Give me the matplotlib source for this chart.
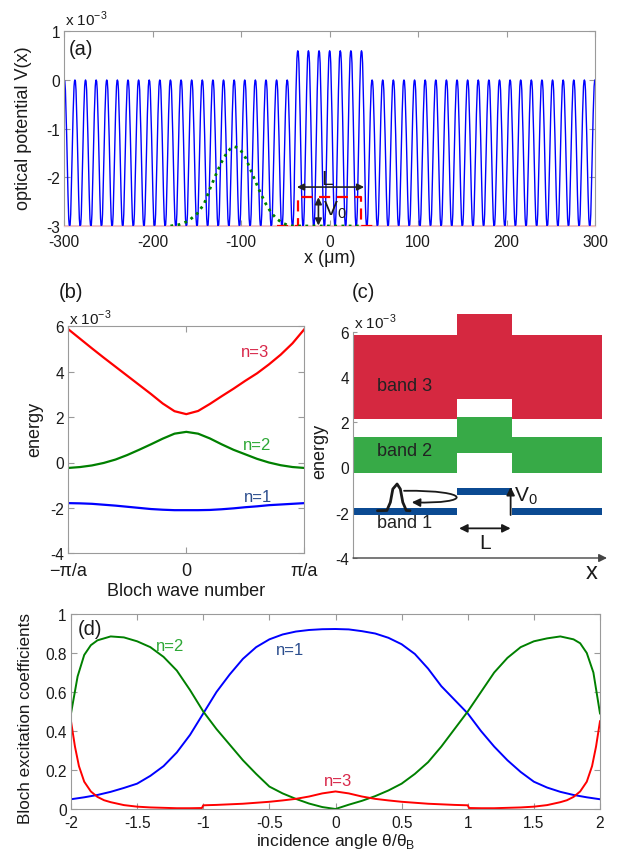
import numpy as np
import matplotlib
matplotlib.use("Agg")
import matplotlib.pyplot as plt
from matplotlib.path import Path
from matplotlib.patches import FancyArrowPatch

plt.rcParams['font.family'] = ['Liberation Sans', 'DejaVu Sans']
plt.rcParams['axes.unicode_minus'] = False

# ---------------- data: panel (a) ----------------
lattice_period = 12.0          # um
lattice_depth = 3.0            # x1e-3
barrier_height = 0.6           # x1e-3
barrier_halfwidth = 40.0       # um
cell_phase = [0, .05, .1, .2, .3, .4, .45, .5, .55, .6, .7, .8, .9, .95, 1]
cell_shape = [0, -0.01, -0.06, -0.3, -0.65, -0.93, -0.99, -1.0, -0.99, -0.93, -0.65, -0.3, -0.06, -0.01, 0]
beam_x = [-180, -170, -160, -150, -142, -135, -128, -122, -116, -112, -108, -104, -100, -95, -90,
          -84, -78, -72, -66, -60, -54, -48, -42, 36]
beam_v = [-3.0, -2.97, -2.9, -2.75, -2.55, -2.22, -1.92, -1.68, -1.49, -1.41, -1.37, -1.39, -1.46,
          -1.6, -1.82, -2.08, -2.33, -2.55, -2.73, -2.85, -2.93, -2.98, -3.0, -3.0]
box_x = [-60, -36, -36, 36, 36, 50]
box_v = [-3, -3, -2.4, -2.4, -3, -3]
a_xticks = [-300, -200, -100, 0, 100, 200, 300]
a_yticks = [-3, -2, -1, 0, 1]

# ---------------- data: panel (b) ----------------
k_frac = [-1.0, -0.9, -0.8, -0.7, -0.6, -0.5, -0.4, -0.3, -0.2, -0.1, 0.0,
          0.1, 0.2, 0.3, 0.4, 0.5, 0.6, 0.7, 0.8, 0.9, 1.0]
E1 = [-1.79, -1.80, -1.82, -1.86, -1.90, -1.95, -2.00, -2.05, -2.08, -2.10, -2.10,
      -2.10, -2.09, -2.06, -2.02, -1.97, -1.93, -1.88, -1.85, -1.82, -1.79]
E2 = [-0.24, -0.20, -0.13, -0.02, 0.13, 0.33, 0.56, 0.80, 1.05, 1.27, 1.35,
      1.27, 1.06, 0.80, 0.56, 0.36, 0.16, 0.00, -0.12, -0.20, -0.24]
E3 = [5.87, 5.45, 5.03, 4.62, 4.22, 3.82, 3.42, 3.02, 2.60, 2.26, 2.13,
      2.27, 2.58, 2.92, 3.25, 3.60, 3.93, 4.32, 4.75, 5.25, 5.87]
b_xticklabels = ['\u2212\u03c0/a', '0', '\u03c0/a']

# ---------------- data: panel (c) ----------------
V0_shift = 0.9
c_x_edges = [0.0, 0.416, 0.639, 1.0]
packet_x = [0.098, 0.136, 0.150, 0.160, 0.177, 0.190, 0.200, 0.214, 0.229]
packet_E = [-1.91, -1.90, -1.54, -0.95, -0.73, -0.95, -1.54, -1.90, -1.91]

# ---------------- data: panel (d) ----------------
theta_n1 = [-2.0, -1.9, -1.8, -1.7, -1.6, -1.5, -1.4, -1.3, -1.2, -1.1, -1.0, -0.9, -0.8, -0.7,
            -0.6, -0.5, -0.4, -0.3, -0.2, -0.1, 0.0, 0.1, 0.2, 0.3, 0.4, 0.5, 0.6, 0.7, 0.8,
            0.9, 1.0, 1.1, 1.2, 1.3, 1.4, 1.5, 1.6, 1.7, 1.8, 1.9, 2.0]
c_n1 = [0.05, 0.06, 0.072, 0.088, 0.108, 0.13, 0.17, 0.22, 0.29, 0.38, 0.49, 0.60, 0.69, 0.77,
        0.83, 0.87, 0.895, 0.91, 0.918, 0.922, 0.923, 0.921, 0.912, 0.90, 0.878, 0.845, 0.795,
        0.72, 0.63, 0.56, 0.49, 0.40, 0.32, 0.25, 0.19, 0.14, 0.11, 0.088, 0.072, 0.06, 0.05]
theta_n2 = [-2.0, -1.95, -1.9, -1.85, -1.8, -1.7, -1.6, -1.5, -1.4, -1.3, -1.2, -1.1, -1.0, -0.9,
            -0.8, -0.7, -0.6, -0.5, -0.4, -0.3, -0.2, -0.1, 0.0, 0.1, 0.2, 0.3, 0.4, 0.5, 0.6,
            0.7, 0.8, 0.9, 1.0, 1.1, 1.2, 1.3, 1.4, 1.5, 1.6, 1.7, 1.8, 1.85, 1.9, 1.95, 2.0]
c_n2 = [0.49, 0.68, 0.79, 0.84, 0.865, 0.885, 0.88, 0.86, 0.83, 0.78, 0.71, 0.61, 0.5, 0.41,
        0.33, 0.25, 0.18, 0.115, 0.08, 0.052, 0.028, 0.01, 0.0, 0.022, 0.042, 0.066, 0.095, 0.13,
        0.18, 0.24, 0.32, 0.41, 0.5, 0.6, 0.7, 0.775, 0.83, 0.86, 0.875, 0.885, 0.87, 0.85, 0.8,
        0.7, 0.49]
theta_n3 = [-2.0, -1.97, -1.94, -1.9, -1.85, -1.8, -1.75, -1.7, -1.6, -1.5, -1.4, -1.3, -1.2,
            -1.1, -1.01, -1.0, -0.9, -0.8, -0.7, -0.6, -0.5, -0.4, -0.3, -0.2, -0.1, 0.0, 0.1,
            0.2, 0.3, 0.4, 0.5, 0.6, 0.7, 0.8, 0.9, 1.0, 1.01, 1.1, 1.2, 1.3, 1.4, 1.5, 1.6, 1.7,
            1.75, 1.8, 1.85, 1.9, 1.94, 1.97, 2.0]
c_n3 = [0.45, 0.32, 0.22, 0.14, 0.09, 0.062, 0.045, 0.035, 0.02, 0.012, 0.008, 0.006, 0.004,
        0.004, 0.005, 0.019, 0.021, 0.024, 0.027, 0.032, 0.037, 0.044, 0.052, 0.064, 0.08, 0.09,
        0.08, 0.064, 0.052, 0.044, 0.037, 0.032, 0.027, 0.024, 0.021, 0.019, 0.005, 0.004, 0.004,
        0.006, 0.008, 0.012, 0.02, 0.035, 0.045, 0.062, 0.09, 0.14, 0.22, 0.32, 0.45]
d_xticks = [-2, -1.5, -1, -0.5, 0, 0.5, 1, 1.5, 2]
d_yticks = [0, 0.2, 0.4, 0.6, 0.8, 1]

# ---------------- styling ----------------
W, H = 618, 854
fig = plt.figure(figsize=(W / 100, H / 100), dpi=100)
fig.patch.set_facecolor('white')

def axrect(l, t, r, b):
    return [l / W, 1 - b / H, (r - l) / W, (b - t) / H]

def ftext(x, y, s, **kw):
    return fig.text(x / W, 1 - y / H, s, **kw)

SP = '#9a9a9a'
TXT = '#1a1a1a'
TICK_FS = 11.2
LAB_FS = 13
C_RED, C_GRN, C_BLU = '#FF0000', '#008000', '#0000FF'
T_RED, T_GRN, T_BLU = '#D8284A', '#2EA836', '#2C4E8E'

def style(ax, xpad=6):
    for s in ax.spines.values():
        s.set_color(SP)
        s.set_linewidth(0.8)
    ax.tick_params(direction='in', top=True, right=True, length=4, width=0.8, color=SP,
                   labelsize=TICK_FS, labelcolor=TXT, pad=3)
    ax.tick_params(axis='x', pad=xpad)

# ---------------- panel (a) ----------------
axA = fig.add_axes(axrect(64.3, 32.3, 595, 227))
style(axA, xpad=6)
xa = np.linspace(-300, 300, 12001)
ph = ((xa - 0.0) / lattice_period) % 1.0
prof = np.interp(ph, cell_phase, cell_shape)
bump = np.where(np.abs(xa) <= barrier_halfwidth, barrier_height, 0.0)
Va = prof * (lattice_depth + bump) + bump
axA.plot([-300, 300], [-3, -3], color='#F3B9B9', lw=1.2, zorder=1)
axA.plot(xa, Va, color=C_BLU, lw=1.0, zorder=2)
axA.plot(box_x, box_v, color=C_RED, lw=1.6, ls=(0, (5, 3)), zorder=3)
axA.plot(beam_x, beam_v, color=C_GRN, lw=2.0, ls=(0, (1, 1.6)), zorder=4)
axA.set_xlim(-300, 300)
axA.set_ylim(-3, 1)
axA.set_xticks(a_xticks)
axA.set_yticks(a_yticks)
axA.spines['bottom'].set_color('#F0C4C4')
axA.set_ylabel('optical potential V(x)', fontsize=LAB_FS, color=TXT)
axA.yaxis.set_label_coords(-0.061, 0.51)
axA.set_xlabel('x (\u03bcm)', fontsize=LAB_FS, color=TXT)
axA.xaxis.set_label_coords(0.5, -0.118)
axA.text(0.008, 0.913, '(a)', transform=axA.transAxes, fontsize=14.5, color=TXT, va='center', ha='left')
axA.annotate('', xy=(-37, -2.2), xytext=(39, -2.2),
             arrowprops=dict(arrowstyle='<|-|>', color='#222222', lw=1.2, mutation_scale=10,
                             shrinkA=0, shrinkB=0))
axA.text(-3, -2.02, 'L', fontsize=15, color=TXT, ha='center', va='center')
axA.annotate('', xy=(-12.7, -2.41), xytext=(-12.7, -2.99),
             arrowprops=dict(arrowstyle='<|-|>', color='#222222', lw=1.2, mutation_scale=10,
                             shrinkA=0, shrinkB=0))
axA.text(-8, -2.66, r'$\mathregular{V_0}$', fontsize=15, color=TXT, ha='left', va='center')
ftext(65, 19, r'x 10$^{\mathregular{-3}}$', fontsize=11, color=TXT, ha='left', va='center')

# ---------------- panel (b) ----------------
axB = fig.add_axes(axrect(68.3, 327.3, 304.3, 554.3))
style(axB)
axB.plot(k_frac, E3, color=C_RED, lw=1.6)
axB.plot(k_frac, E2, color=C_GRN, lw=1.6)
axB.plot(k_frac, E1, color=C_BLU, lw=1.6)
axB.set_xlim(-1, 1)
axB.set_ylim(-4, 6)
axB.set_xticks([-1, 0, 1])
axB.set_xticklabels(b_xticklabels)
axB.set_yticks([-4, -2, 0, 2, 4, 6])
axB.tick_params(axis='x', labelsize=13, pad=6.5)
axB.text(0.585, 4.88, 'n=3', color=T_RED, fontsize=12, ha='center', va='center')
axB.text(0.60, 0.79, 'n=2', color=T_GRN, fontsize=12, ha='center', va='center')
axB.text(0.61, -1.51, 'n=1', color=T_BLU, fontsize=12, ha='center', va='center')
axB.set_ylabel('energy', fontsize=LAB_FS, color=TXT)
axB.yaxis.set_label_coords(-0.106, 0.548)
axB.set_xlabel('Bloch wave number', fontsize=LAB_FS, color=TXT)
axB.xaxis.set_label_coords(0.5, -0.128)
ftext(69, 318, r'x 10$^{\mathregular{-3}}$', fontsize=11, color=TXT, ha='left', va='center')
ftext(59, 293, '(b)', fontsize=14.5, color=TXT, ha='left', va='center')

# ---------------- panel (c) ----------------
axC = fig.add_axes(axrect(353, 332.7, 607, 559))
axC.set_xlim(0, 1.02)
axC.set_ylim(-4, 6)
for s in ['top', 'right', 'bottom']:
    axC.spines[s].set_visible(False)
axC.spines['left'].set_color(SP)
axC.spines['left'].set_linewidth(0.8)
axC.set_xticks([])
axC.set_yticks([-4, -2, 0, 2, 4, 6])
axC.tick_params(axis='y', direction='in', length=3, width=0.8, color=SP, labelsize=TICK_FS,
                labelcolor=TXT, pad=3)
edges = np.array(c_x_edges)
centers = (edges[:-1] + edges[1:]) / 2
widths = np.diff(edges)
band_cols = ['#0B4A92', '#37AA47', '#D52840']
for E, col in zip([E1, E2, E3], band_cols):
    lo, hi = min(E), max(E)
    lows = [lo, lo + V0_shift, lo]
    axC.bar(centers, [hi - lo] * 3, bottom=lows, width=widths, color=col, edgecolor='none',
            linewidth=0, clip_on=False, zorder=2)
axC.annotate('', xy=(1.02, -4), xytext=(0, -4), annotation_clip=False,
             arrowprops=dict(arrowstyle='-|>', color='#444444', lw=1.0, mutation_scale=12,
                             shrinkA=0, shrinkB=0))
axC.text(0.096, 3.61, 'band 3', fontsize=13, color='#222222', ha='left', va='center', zorder=5)
axC.text(0.096, 0.74, 'band 2', fontsize=13, color='#222222', ha='left', va='center', zorder=5)
axC.text(0.096, -2.45, 'band 1', fontsize=13, color='#222222', ha='left', va='center', zorder=5)
axC.plot(packet_x, packet_E, color='#1a1a1a', lw=2.0, zorder=6, solid_capstyle='round')
loop = Path([(0.205, -1.03), (0.48, -1.0), (0.48, -1.62), (0.236, -1.54)],
            [Path.MOVETO, Path.CURVE4, Path.CURVE4, Path.CURVE4])
axC.add_patch(FancyArrowPatch(path=loop, arrowstyle='-|>', mutation_scale=12, color='#1a1a1a',
                              lw=1.3, transform=axC.transData, zorder=6, clip_on=False))
axC.annotate('', xy=(0.633, -0.86), xytext=(0.633, -2.1),
             arrowprops=dict(arrowstyle='-|>', color='#1a1a1a', lw=1.3, mutation_scale=12,
                             shrinkA=0, shrinkB=0))
axC.text(0.648, -1.22, r'$\mathregular{V_0}$', fontsize=15, color=TXT, ha='left', va='center')
axC.annotate('', xy=(0.426, -2.69), xytext=(0.633, -2.69),
             arrowprops=dict(arrowstyle='<|-|>', color='#1a1a1a', lw=1.3, mutation_scale=12,
                             shrinkA=0, shrinkB=0))
axC.text(0.53, -3.3, 'L', fontsize=15, color=TXT, ha='center', va='center')
axC.text(0.96, -4.6, 'x', fontsize=17, color=TXT, ha='center', va='center', clip_on=False)
axC.set_ylabel('energy', fontsize=LAB_FS, color=TXT)
axC.yaxis.set_label_coords(-0.098, 0.474)
ftext(354, 322, r'x 10$^{\mathregular{-3}}$', fontsize=11, color=TXT, ha='left', va='center')
ftext(352, 293, '(c)', fontsize=14.5, color=TXT, ha='left', va='center')

# ---------------- panel (d) ----------------
axD = fig.add_axes(axrect(71, 615, 600, 810))
style(axD, xpad=4)
axD.plot(theta_n1, c_n1, color=C_BLU, lw=1.4)
axD.plot(theta_n2, c_n2, color=C_GRN, lw=1.4)
axD.plot(theta_n3, c_n3, color=C_RED, lw=1.4)
axD.set_xlim(-2, 2)
axD.set_ylim(0, 1)
axD.set_xticks(d_xticks)
axD.set_xticklabels(['-2', '-1.5', '-1', '-0.5', '0', '0.5', '1', '1.5', '2'])
axD.set_yticks(d_yticks)
axD.set_yticklabels(['0', '0.2', '0.4', '0.6', '0.8', '1'])
axD.text(-1.254, 0.838, 'n=2', color=T_GRN, fontsize=12, ha='center', va='center')
axD.text(-0.343, 0.82, 'n=1', color=T_BLU, fontsize=12, ha='center', va='center')
axD.text(0.02, 0.148, 'n=3', color=T_RED, fontsize=12, ha='center', va='center')
axD.text(0.012, 0.925, '(d)', transform=axD.transAxes, fontsize=14.5, color=TXT, ha='left', va='center')
axD.set_ylabel('Bloch excitation coefficients', fontsize=12.3, color=TXT)
axD.yaxis.set_label_coords(-0.072, 0.47)
axD.set_xlabel('incidence angle \u03b8/\u03b8$_{\\mathregular{B}}$', fontsize=12.5, color=TXT)
axD.xaxis.set_label_coords(0.5, -0.113)

fig.savefig('out.png', dpi=100, facecolor='white')
